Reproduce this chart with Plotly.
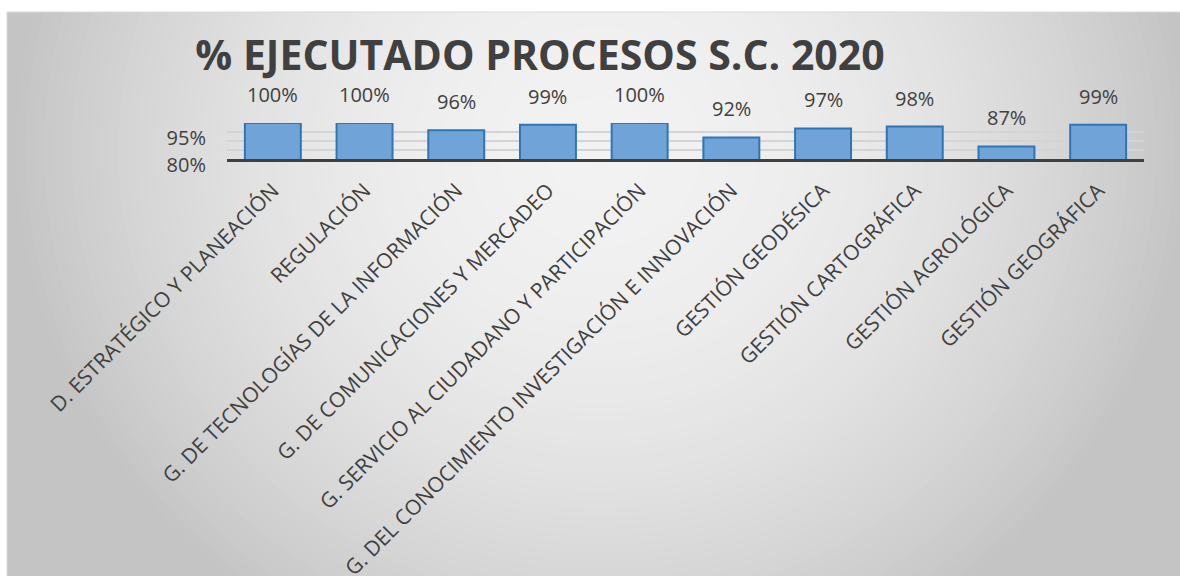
import plotly.graph_objects as go

procesos = [
    "D. ESTRATÉGICO Y PLANEACIÓN",
    "REGULACIÓN",
    "G. DE TECNOLOGÍAS DE LA INFORMACIÓN",
    "G. DE COMUNICACIONES Y MERCADEO",
    "G. SERVICIO AL CIUDADANO Y PARTICIPACIÓN",
    "G. DEL CONOCIMIENTO INVESTIGACIÓN E INNOVACIÓN",
    "GESTIÓN GEODÉSICA",
    "GESTIÓN CARTOGRÁFICA",
    "GESTIÓN AGROLÓGICA",
    "GESTIÓN GEOGRÁFICA",
]
ejecutado = [100, 100, 96, 99, 100, 92, 97, 98, 87, 99]

y_ticks = [80, 85, 90, 95, 100]
y_labels = ["80%", "", "", "95%", ""]

W, H = 1180, 576
L, R, T, B = 227, W - 1144, 123, H - 159
TEXT = "#404040"
FONT = "Open Sans"


def px(x):
    # screen pixel -> paper x
    return (x - L) / (W - L - R)


def py(y):
    # screen pixel -> paper y
    return (H - B - y) / (H - T - B)


def grey(v):
    v = int(round(v))
    return f"rgb({v},{v},{v})"


# radial grey gradient behind the chart (lighter in the middle)
shapes = [dict(type="rect", xref="paper", yref="paper", layer="below",
               x0=px(0), x1=px(W + 20), y0=py(H + 20), y1=py(0),
               fillcolor=grey(196), line_width=0)]
steps = 80
for i in range(steps, 0, -1):
    t = 1.25 * i / steps
    v = max(196, 242 - 46 * t * t)
    shapes.append(dict(type="circle", xref="paper", yref="paper", layer="below",
                       x0=px(600 - t * 593), x1=px(600 + t * 593),
                       y0=py(150 + t * 560), y1=py(150 - t * 560),
                       fillcolor=grey(v), line_width=0))
shapes += [
    dict(type="rect", xref="paper", yref="paper", layer="below",
         x0=px(-5), x1=px(W + 20), y0=py(12), y1=py(-5), fillcolor="white", line_width=0),
    dict(type="rect", xref="paper", yref="paper", layer="below",
         x0=px(-5), x1=px(7), y0=py(H + 20), y1=py(-5), fillcolor="white", line_width=0),
    dict(type="rect", xref="paper", yref="paper", layer="below",
         x0=px(7), x1=px(W + 5), y0=py(H + 5), y1=py(12),
         line=dict(color="#d9d9d9", width=1)),
]

fig = go.Figure(
    go.Bar(
        x=procesos, y=ejecutado,
        marker=dict(color="#70a4d8", line=dict(color="#2e75b6", width=2)),
        hoverinfo="x+y",
    )
)

for p, v in zip(procesos, ejecutado):
    fig.add_annotation(x=p, y=v, text=f"{v}%", showarrow=False, yanchor="bottom", yshift=13,
                       font=dict(family=FONT, size=20, color=TEXT))

fig.update_layout(
    width=W, height=H,
    margin=dict(l=L, r=R, t=T, b=B),
    paper_bgcolor="white",
    plot_bgcolor="rgba(0,0,0,0)",
    shapes=shapes,
    bargap=0.39,
    showlegend=False,
    title=dict(text="<b>% EJECUTADO PROCESOS S.C. 2020</b>", xref="container", yref="container",
               x=540 / W, y=1 - 56 / H, xanchor="center", yanchor="middle",
               font=dict(family=FONT, size=41, color=TEXT)),
    font=dict(family=FONT, color=TEXT),
)
fig.update_xaxes(
    showline=True, linecolor=TEXT, linewidth=3, showgrid=False,
    tickangle=-45, tickfont=dict(family=FONT, size=21, color=TEXT),
    automargin=False, ticks="", ticklabelstandoff=8,
)
fig.update_yaxes(
    range=[80, 100], tickvals=y_ticks, ticktext=y_labels,
    showgrid=True, gridcolor="#d4d4d4", gridwidth=1.5, zeroline=False,
    tickfont=dict(family=FONT, size=20, color=TEXT),
    ticklabelshift=6, ticklabelstandoff=20, automargin=False,
)

fig.write_html("out.html", config={"displayModeBar": False},
               post_script="document.body.style.margin='0';document.body.style.overflow='hidden';")
